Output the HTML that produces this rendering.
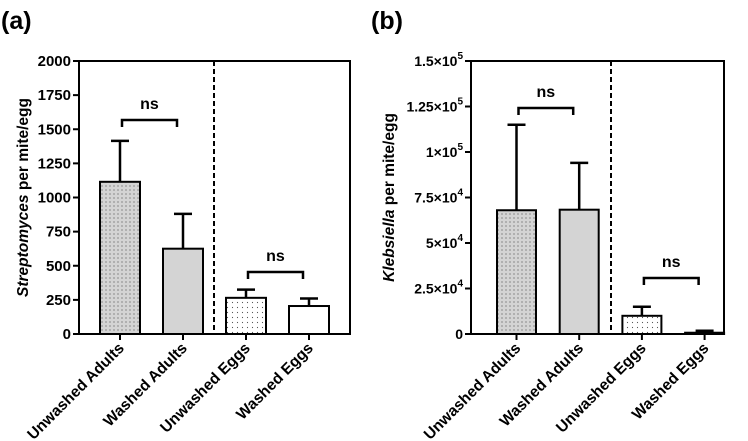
<!DOCTYPE html>
<html><head><meta charset="utf-8"><style>
html,body{margin:0;padding:0;background:#fff}
svg{display:block;font-family:"Liberation Sans",Arial,sans-serif}
</style></head><body>
<svg id="c" width="748" height="441" viewBox="0 0 748 441">
<defs>
<pattern id="dense" width="4" height="4" patternUnits="userSpaceOnUse"><rect width="4" height="4" fill="#d4d4d4"/><circle cx="2" cy="2" r="0.6" fill="#555"/></pattern>
<pattern id="sparse" width="5" height="5" patternUnits="userSpaceOnUse"><rect width="5" height="5" fill="#fff"/><circle cx="2.5" cy="2.5" r="0.6" fill="#555"/></pattern>
</defs>
</svg>
<script>
const categories=["Unwashed Adults","Washed Adults","Unwashed Eggs","Washed Eggs"];
const valuesA=[1115,625,265,205];
const errorsA=[1415,880,325,260];
const ticksA=[0,250,500,750,1000,1250,1500,1750,2000];
const valuesB=[68000,68300,10000,700];
const errorsB=[115000,94000,15000,1800];
const ticksB=[0,25000,50000,75000,100000,125000,150000];
const tickLabelsB=[["0",""],["2.5×10","4"],["5×10","4"],["7.5×10","4"],["1×10","5"],["1.25×10","5"],["1.5×10","5"]];
const fills=["url(#dense)","#d4d4d4","url(#sparse)","#fff"];
const svg=document.getElementById('c');
const NS="http://www.w3.org/2000/svg";
function mk(tag,at,parent){const e=document.createElementNS(NS,tag);for(const k in at)e.setAttribute(k,at[k]);(parent||svg).appendChild(e);return e;}
function panel(o){
  const g=mk('g',{});
  
  
  const y=v=>o.bottom-(v/o.max)*(o.bottom-o.top);
  const bx=i=>o.x0+i*o.step;
  const L=mk('text',{x:o.letterX,y:29,'font-size':25,'font-weight':'bold'},g);L.textContent=o.letter;
  
  for(let i=0;i<categories.length;i++){
    const cx=bx(i)+o.bw/2;
    const er=mk('path',{d:`M${cx},${y(o.vals[i])}V${y(o.errs[i])}M${cx-9},${y(o.errs[i])}H${cx+9}`,stroke:'#000','stroke-width':2.5,fill:'none'},g);
    
    const r=mk('rect',{x:bx(i),y:y(o.vals[i]),width:o.bw,height:o.bottom-y(o.vals[i]),fill:fills[i],stroke:'#000','stroke-width':2},g);
    
    mk('line',{x1:cx,x2:cx,y1:o.bottom,y2:o.bottom+6,stroke:'#000','stroke-width':2},g);
    const t=mk('text',{transform:`translate(${cx+5},${o.bottom+15}) rotate(-45)`,'text-anchor':'end','font-size':15.5,'font-weight':'bold'},g);
    t.textContent=categories[i];
    
  }
  mk('path',{d:`M${o.left},${o.top}H${o.right}V${o.bottom}H${o.left}Z`,stroke:'#000','stroke-width':2,fill:'none'},g);
  mk('line',{x1:o.dash,x2:o.dash,y1:o.top,y2:o.bottom,stroke:'#000','stroke-width':2,'stroke-dasharray':'5,3'},g);
  o.ticks.forEach((v,k)=>{
    mk('line',{x1:o.left-6,x2:o.left,y1:y(v),y2:y(v),stroke:'#000','stroke-width':2},g);
    const t=mk('text',{x:o.left-8,y:y(v)+5,'text-anchor':'end','font-size':o.tfs,'font-weight':'bold'},g);
    if(o.tl){t.textContent=o.tl[k][0];if(o.tl[k][1]){const s=mk('tspan',{dy:-7,'font-size':10},t);s.textContent=o.tl[k][1];}}
    else t.textContent=v;
    
  });
  const yt=mk('text',{transform:`translate(${o.titleX},${(o.top+o.bottom)/2}) rotate(-90)`,'text-anchor':'middle','font-size':15.5,'font-weight':'bold'},g);
  const it=mk('tspan',{'font-style':'italic'},yt);it.textContent=o.genus;
  const rt=mk('tspan',{},yt);rt.textContent=' per mite/egg';
  
  o.br.forEach(b=>{
    const x1=bx(b[0])+o.bw/2+2,x2=bx(b[1])+o.bw/2-6;
    mk('path',{d:`M${x1},${b[2]+7}V${b[2]}H${x2}V${b[2]+7}`,stroke:'#000','stroke-width':2.5,fill:'none'},g);
    const t=mk('text',{x:(x1+x2)/2,y:b[2]-11,'text-anchor':'middle','font-size':16,'font-weight':'bold'},g);t.textContent='ns';
    
  });
}
panel({name:'panel-a',letter:'(a)',letterX:1,left:79,right:350,top:61,bottom:334,max:2000,x0:100,step:63,bw:40,dash:214,tfs:15,
  vals:valuesA,errs:errorsA,ticks:ticksA,titleX:28,genus:'Streptomyces',br:[[0,1,120],[2,3,272]]});
panel({name:'panel-b',letter:'(b)',letterX:371,left:471,right:724,top:61,bottom:334,max:150000,x0:497,step:62.7,bw:39,dash:611,tfs:14,
  vals:valuesB,errs:errorsB,ticks:ticksB,tl:tickLabelsB,titleX:394,genus:'Klebsiella',br:[[0,1,108],[2,3,278]]});
</script>
</body></html>
